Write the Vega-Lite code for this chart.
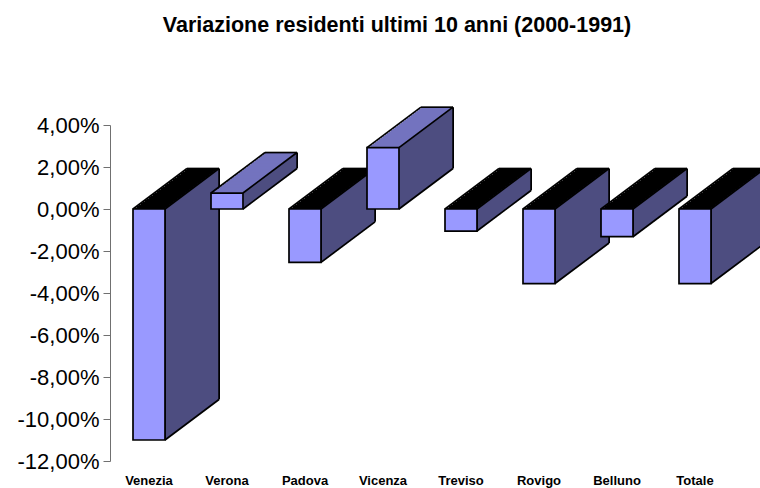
{
"$schema": "https://vega.github.io/schema/vega-lite/v6.json",
"width": 624, "height": 336,
"autosize": {"type": "none"},
"padding": {"left": 110, "top": 125, "right": 26, "bottom": 27},
"background": "white",
"title": {"text": "Variazione residenti ultimi 10 anni (2000-1991)", "font": "Liberation Sans", "fontSize": 21.5, "fontWeight": "bold", "color": "black", "anchor": "middle", "frame": "group", "baseline": "alphabetic", "offset": 53, "dx": -25},
"config": {"view": {"stroke": null}},
"data": {"values": [
{"name": "Venezia", "value": -11.0},
{"name": "Verona", "value": 0.76},
{"name": "Padova", "value": -2.54},
{"name": "Vicenza", "value": 2.92},
{"name": "Treviso", "value": -1.05},
{"name": "Rovigo", "value": -3.55},
{"name": "Belluno", "value": -1.32},
{"name": "Totale", "value": -3.55}
]},
"encoding": {
"x": {"field": "name", "type": "nominal", "sort": null, "scale": {"type": "band", "paddingInner": 0, "paddingOuter": 0}, "axis": {"orient": "bottom", "domain": false, "ticks": false, "labelAngle": 0, "labelFont": "Liberation Sans", "labelFontSize": 13, "labelFontWeight": "bold", "labelColor": "black", "labelPadding": 13, "title": null}},
"y": {"field": "value", "type": "quantitative", "scale": {"domain": [-12, 4], "nice": false, "zero": false}, "axis": {"values": [-12, -10, -8, -6, -4, -2, 0, 2, 4], "labelExpr": "replace(replace(format(datum.value, '.2f'), '.', ','), '\u2212', '-') + '%'", "grid": false, "title": null, "domainColor": "#707070", "tickColor": "#707070", "tickSize": 7, "labelFont": "Liberation Sans", "labelFontSize": 22, "labelColor": "black", "labelPadding": 4}}
},
"layer": [
{"mark": {"type": "bar", "width": 32, "xOffset": 54, "yOffset": -40.5, "y2Offset": -40.5}, "encoding": {"y2": {"datum": 0}, "fill": {"condition": {"test": "datum.value < 0", "value": "#000000"}, "value": "#7373BF"}}},
{"mark": {"type": "rule", "stroke": "black", "strokeWidth": 2, "xOffset": 70, "yOffset": -40.5, "y2Offset": -40.5}, "encoding": {"y2": {"datum": 0}}},
{"mark": {"type": "bar", "width": 32, "xOffset": 52, "yOffset": -39, "y2Offset": -39}, "encoding": {"y2": {"datum": 0}, "fill": {"condition": {"test": "datum.value < 0", "value": "#000000"}, "value": "#7373BF"}}},
{"mark": {"type": "rule", "stroke": "#4D4D80", "strokeWidth": 2.5, "xOffset": 68, "yOffset": -39, "y2Offset": -39}, "encoding": {"y2": {"datum": 0}}},
{"mark": {"type": "bar", "width": 32, "xOffset": 50, "yOffset": -37.5, "y2Offset": -37.5}, "encoding": {"y2": {"datum": 0}, "fill": {"condition": {"test": "datum.value < 0", "value": "#000000"}, "value": "#7373BF"}}},
{"mark": {"type": "rule", "stroke": "#4D4D80", "strokeWidth": 2.5, "xOffset": 66, "yOffset": -37.5, "y2Offset": -37.5}, "encoding": {"y2": {"datum": 0}}},
{"mark": {"type": "bar", "width": 32, "xOffset": 48, "yOffset": -36, "y2Offset": -36}, "encoding": {"y2": {"datum": 0}, "fill": {"condition": {"test": "datum.value < 0", "value": "#000000"}, "value": "#7373BF"}}},
{"mark": {"type": "rule", "stroke": "#4D4D80", "strokeWidth": 2.5, "xOffset": 64, "yOffset": -36, "y2Offset": -36}, "encoding": {"y2": {"datum": 0}}},
{"mark": {"type": "bar", "width": 32, "xOffset": 46, "yOffset": -34.5, "y2Offset": -34.5}, "encoding": {"y2": {"datum": 0}, "fill": {"condition": {"test": "datum.value < 0", "value": "#000000"}, "value": "#7373BF"}}},
{"mark": {"type": "rule", "stroke": "#4D4D80", "strokeWidth": 2.5, "xOffset": 62, "yOffset": -34.5, "y2Offset": -34.5}, "encoding": {"y2": {"datum": 0}}},
{"mark": {"type": "bar", "width": 32, "xOffset": 44, "yOffset": -33, "y2Offset": -33}, "encoding": {"y2": {"datum": 0}, "fill": {"condition": {"test": "datum.value < 0", "value": "#000000"}, "value": "#7373BF"}}},
{"mark": {"type": "rule", "stroke": "#4D4D80", "strokeWidth": 2.5, "xOffset": 60, "yOffset": -33, "y2Offset": -33}, "encoding": {"y2": {"datum": 0}}},
{"mark": {"type": "bar", "width": 32, "xOffset": 42, "yOffset": -31.5, "y2Offset": -31.5}, "encoding": {"y2": {"datum": 0}, "fill": {"condition": {"test": "datum.value < 0", "value": "#000000"}, "value": "#7373BF"}}},
{"mark": {"type": "rule", "stroke": "#4D4D80", "strokeWidth": 2.5, "xOffset": 58, "yOffset": -31.5, "y2Offset": -31.5}, "encoding": {"y2": {"datum": 0}}},
{"mark": {"type": "bar", "width": 32, "xOffset": 40, "yOffset": -30, "y2Offset": -30}, "encoding": {"y2": {"datum": 0}, "fill": {"condition": {"test": "datum.value < 0", "value": "#000000"}, "value": "#7373BF"}}},
{"mark": {"type": "rule", "stroke": "#4D4D80", "strokeWidth": 2.5, "xOffset": 56, "yOffset": -30, "y2Offset": -30}, "encoding": {"y2": {"datum": 0}}},
{"mark": {"type": "bar", "width": 32, "xOffset": 38, "yOffset": -28.5, "y2Offset": -28.5}, "encoding": {"y2": {"datum": 0}, "fill": {"condition": {"test": "datum.value < 0", "value": "#000000"}, "value": "#7373BF"}}},
{"mark": {"type": "rule", "stroke": "#4D4D80", "strokeWidth": 2.5, "xOffset": 54, "yOffset": -28.5, "y2Offset": -28.5}, "encoding": {"y2": {"datum": 0}}},
{"mark": {"type": "bar", "width": 32, "xOffset": 36, "yOffset": -27, "y2Offset": -27}, "encoding": {"y2": {"datum": 0}, "fill": {"condition": {"test": "datum.value < 0", "value": "#000000"}, "value": "#7373BF"}}},
{"mark": {"type": "rule", "stroke": "#4D4D80", "strokeWidth": 2.5, "xOffset": 52, "yOffset": -27, "y2Offset": -27}, "encoding": {"y2": {"datum": 0}}},
{"mark": {"type": "bar", "width": 32, "xOffset": 34, "yOffset": -25.5, "y2Offset": -25.5}, "encoding": {"y2": {"datum": 0}, "fill": {"condition": {"test": "datum.value < 0", "value": "#000000"}, "value": "#7373BF"}}},
{"mark": {"type": "rule", "stroke": "#4D4D80", "strokeWidth": 2.5, "xOffset": 50, "yOffset": -25.5, "y2Offset": -25.5}, "encoding": {"y2": {"datum": 0}}},
{"mark": {"type": "bar", "width": 32, "xOffset": 32, "yOffset": -24, "y2Offset": -24}, "encoding": {"y2": {"datum": 0}, "fill": {"condition": {"test": "datum.value < 0", "value": "#000000"}, "value": "#7373BF"}}},
{"mark": {"type": "rule", "stroke": "#4D4D80", "strokeWidth": 2.5, "xOffset": 48, "yOffset": -24, "y2Offset": -24}, "encoding": {"y2": {"datum": 0}}},
{"mark": {"type": "bar", "width": 32, "xOffset": 30, "yOffset": -22.5, "y2Offset": -22.5}, "encoding": {"y2": {"datum": 0}, "fill": {"condition": {"test": "datum.value < 0", "value": "#000000"}, "value": "#7373BF"}}},
{"mark": {"type": "rule", "stroke": "#4D4D80", "strokeWidth": 2.5, "xOffset": 46, "yOffset": -22.5, "y2Offset": -22.5}, "encoding": {"y2": {"datum": 0}}},
{"mark": {"type": "bar", "width": 32, "xOffset": 28, "yOffset": -21, "y2Offset": -21}, "encoding": {"y2": {"datum": 0}, "fill": {"condition": {"test": "datum.value < 0", "value": "#000000"}, "value": "#7373BF"}}},
{"mark": {"type": "rule", "stroke": "#4D4D80", "strokeWidth": 2.5, "xOffset": 44, "yOffset": -21, "y2Offset": -21}, "encoding": {"y2": {"datum": 0}}},
{"mark": {"type": "bar", "width": 32, "xOffset": 26, "yOffset": -19.5, "y2Offset": -19.5}, "encoding": {"y2": {"datum": 0}, "fill": {"condition": {"test": "datum.value < 0", "value": "#000000"}, "value": "#7373BF"}}},
{"mark": {"type": "rule", "stroke": "#4D4D80", "strokeWidth": 2.5, "xOffset": 42, "yOffset": -19.5, "y2Offset": -19.5}, "encoding": {"y2": {"datum": 0}}},
{"mark": {"type": "bar", "width": 32, "xOffset": 24, "yOffset": -18, "y2Offset": -18}, "encoding": {"y2": {"datum": 0}, "fill": {"condition": {"test": "datum.value < 0", "value": "#000000"}, "value": "#7373BF"}}},
{"mark": {"type": "rule", "stroke": "#4D4D80", "strokeWidth": 2.5, "xOffset": 40, "yOffset": -18, "y2Offset": -18}, "encoding": {"y2": {"datum": 0}}},
{"mark": {"type": "bar", "width": 32, "xOffset": 22, "yOffset": -16.5, "y2Offset": -16.5}, "encoding": {"y2": {"datum": 0}, "fill": {"condition": {"test": "datum.value < 0", "value": "#000000"}, "value": "#7373BF"}}},
{"mark": {"type": "rule", "stroke": "#4D4D80", "strokeWidth": 2.5, "xOffset": 38, "yOffset": -16.5, "y2Offset": -16.5}, "encoding": {"y2": {"datum": 0}}},
{"mark": {"type": "bar", "width": 32, "xOffset": 20, "yOffset": -15, "y2Offset": -15}, "encoding": {"y2": {"datum": 0}, "fill": {"condition": {"test": "datum.value < 0", "value": "#000000"}, "value": "#7373BF"}}},
{"mark": {"type": "rule", "stroke": "#4D4D80", "strokeWidth": 2.5, "xOffset": 36, "yOffset": -15, "y2Offset": -15}, "encoding": {"y2": {"datum": 0}}},
{"mark": {"type": "bar", "width": 32, "xOffset": 18, "yOffset": -13.5, "y2Offset": -13.5}, "encoding": {"y2": {"datum": 0}, "fill": {"condition": {"test": "datum.value < 0", "value": "#000000"}, "value": "#7373BF"}}},
{"mark": {"type": "rule", "stroke": "#4D4D80", "strokeWidth": 2.5, "xOffset": 34, "yOffset": -13.5, "y2Offset": -13.5}, "encoding": {"y2": {"datum": 0}}},
{"mark": {"type": "bar", "width": 32, "xOffset": 16, "yOffset": -12, "y2Offset": -12}, "encoding": {"y2": {"datum": 0}, "fill": {"condition": {"test": "datum.value < 0", "value": "#000000"}, "value": "#7373BF"}}},
{"mark": {"type": "rule", "stroke": "#4D4D80", "strokeWidth": 2.5, "xOffset": 32, "yOffset": -12, "y2Offset": -12}, "encoding": {"y2": {"datum": 0}}},
{"mark": {"type": "bar", "width": 32, "xOffset": 14, "yOffset": -10.5, "y2Offset": -10.5}, "encoding": {"y2": {"datum": 0}, "fill": {"condition": {"test": "datum.value < 0", "value": "#000000"}, "value": "#7373BF"}}},
{"mark": {"type": "rule", "stroke": "#4D4D80", "strokeWidth": 2.5, "xOffset": 30, "yOffset": -10.5, "y2Offset": -10.5}, "encoding": {"y2": {"datum": 0}}},
{"mark": {"type": "bar", "width": 32, "xOffset": 12, "yOffset": -9, "y2Offset": -9}, "encoding": {"y2": {"datum": 0}, "fill": {"condition": {"test": "datum.value < 0", "value": "#000000"}, "value": "#7373BF"}}},
{"mark": {"type": "rule", "stroke": "#4D4D80", "strokeWidth": 2.5, "xOffset": 28, "yOffset": -9, "y2Offset": -9}, "encoding": {"y2": {"datum": 0}}},
{"mark": {"type": "bar", "width": 32, "xOffset": 10, "yOffset": -7.5, "y2Offset": -7.5}, "encoding": {"y2": {"datum": 0}, "fill": {"condition": {"test": "datum.value < 0", "value": "#000000"}, "value": "#7373BF"}}},
{"mark": {"type": "rule", "stroke": "#4D4D80", "strokeWidth": 2.5, "xOffset": 26, "yOffset": -7.5, "y2Offset": -7.5}, "encoding": {"y2": {"datum": 0}}},
{"mark": {"type": "bar", "width": 32, "xOffset": 8, "yOffset": -6, "y2Offset": -6}, "encoding": {"y2": {"datum": 0}, "fill": {"condition": {"test": "datum.value < 0", "value": "#000000"}, "value": "#7373BF"}}},
{"mark": {"type": "rule", "stroke": "#4D4D80", "strokeWidth": 2.5, "xOffset": 24, "yOffset": -6, "y2Offset": -6}, "encoding": {"y2": {"datum": 0}}},
{"mark": {"type": "bar", "width": 32, "xOffset": 6, "yOffset": -4.5, "y2Offset": -4.5}, "encoding": {"y2": {"datum": 0}, "fill": {"condition": {"test": "datum.value < 0", "value": "#000000"}, "value": "#7373BF"}}},
{"mark": {"type": "rule", "stroke": "#4D4D80", "strokeWidth": 2.5, "xOffset": 22, "yOffset": -4.5, "y2Offset": -4.5}, "encoding": {"y2": {"datum": 0}}},
{"mark": {"type": "bar", "width": 32, "xOffset": 4, "yOffset": -3, "y2Offset": -3}, "encoding": {"y2": {"datum": 0}, "fill": {"condition": {"test": "datum.value < 0", "value": "#000000"}, "value": "#7373BF"}}},
{"mark": {"type": "rule", "stroke": "#4D4D80", "strokeWidth": 2.5, "xOffset": 20, "yOffset": -3, "y2Offset": -3}, "encoding": {"y2": {"datum": 0}}},
{"mark": {"type": "bar", "width": 32, "xOffset": 2, "yOffset": -1.5, "y2Offset": -1.5}, "encoding": {"y2": {"datum": 0}, "fill": {"condition": {"test": "datum.value < 0", "value": "#000000"}, "value": "#7373BF"}}},
{"mark": {"type": "rule", "stroke": "#4D4D80", "strokeWidth": 2.5, "xOffset": 18, "yOffset": -1.5, "y2Offset": -1.5}, "encoding": {"y2": {"datum": 0}}},
{"mark": {"type": "rule", "stroke": "black", "strokeWidth": 1.7, "xOffset": 16, "x2Offset": 70, "y2Offset": -40.5}, "encoding": {"x2": {"field": "name"}, "y2": {"field": "value"}}},
{"mark": {"type": "rule", "stroke": "black", "strokeWidth": 1.7, "xOffset": 16, "x2Offset": 70, "y2Offset": -40.5}, "encoding": {"x2": {"field": "name"}, "y": {"datum": 0}, "y2": {"datum": 0}}},
{"mark": {"type": "rule", "stroke": "black", "strokeWidth": 1.7, "xOffset": -16, "x2Offset": 38, "y2Offset": -40.5}, "encoding": {"x2": {"field": "name"}, "y2": {"field": "value"}, "strokeOpacity": {"condition": {"test": "datum.value > 0", "value": 1}, "value": 0}}},
{"mark": {"type": "rule", "stroke": "black", "strokeWidth": 1.7, "xOffset": -16, "x2Offset": 38, "y2Offset": -40.5}, "encoding": {"x2": {"field": "name"}, "y": {"datum": 0}, "y2": {"datum": 0}, "strokeOpacity": {"condition": {"test": "datum.value < 0", "value": 1}, "value": 0}}},
{"mark": {"type": "rule", "stroke": "black", "strokeWidth": 1.7, "xOffset": 38, "x2Offset": 70, "yOffset": -40.5, "y2Offset": -40.5}, "encoding": {"x2": {"field": "name"}, "y2": {"field": "value"}, "strokeOpacity": {"condition": {"test": "datum.value > 0", "value": 1}, "value": 0}}},
{"mark": {"type": "rule", "stroke": "black", "strokeWidth": 1.7, "xOffset": 38, "x2Offset": 70, "yOffset": -40.5, "y2Offset": -40.5}, "encoding": {"x2": {"field": "name"}, "y": {"datum": 0}, "y2": {"datum": 0}, "strokeOpacity": {"condition": {"test": "datum.value < 0", "value": 1}, "value": 0}}},
{"mark": {"type": "bar", "width": 32, "fill": "#9999FF", "stroke": "black", "strokeWidth": 1.7}, "encoding": {"y2": {"datum": 0}}}
]
}
